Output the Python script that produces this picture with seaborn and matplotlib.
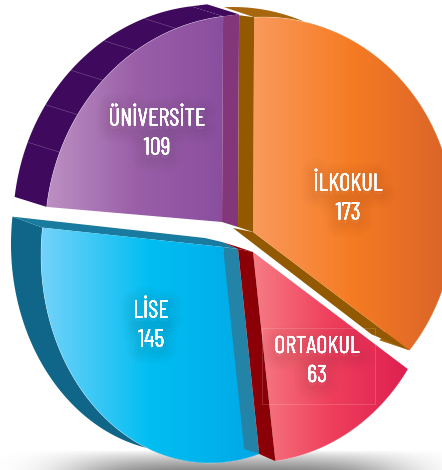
import numpy as np
import seaborn as sns
import matplotlib
matplotlib.use("Agg")
import matplotlib.pyplot as plt
import matplotlib.patheffects as pe
from matplotlib.patches import Polygon, Rectangle

# veriler
kategoriler = ["İLKOKUL", "ORTAOKUL", "LİSE", "ÜNİVERSİTE"]
degerler = [173, 63, 145, 109]

sns.set_theme(style="white")
plt.rcParams["font.family"] = ["Barlow Condensed", "Roboto Condensed", "Oswald", "Roboto", "DejaVu Sans"]

# dilim basina tepe noktasi, kenar elipsi, aci kaymasi, yan derinlik
dilimler = {
    "İLKOKUL": dict(tepe=(253, 232), merkez=(263, 220), rx=191, ry=203, kayma=(0.3, 0), derin=(-30, -10),
                    renk=["#FA9A5C", "#F57B22", "#D8622A"], yan="#A8660F"),
    "ORTAOKUL": dict(tepe=(253, 252), merkez=(250, 258), rx=188, ry=205, kayma=(0, 0.5), derin=(0, 0),
                     renk=["#F67C84", "#EF3F5C", "#DE1F50"], yan="#8B0006"),
    "LİSE": dict(tepe=(223, 247), merkez=(210, 255), rx=169, ry=208, kayma=(-3.3, -3.8), derin=(-30, -11),
                 renk=["#74D2F9", "#00BEF2", "#00A8E6"], yan="#0F6688"),
    "ÜNİVERSİTE": dict(tepe=(222, 222), merkez=(245, 235), rx=200, ry=220, kayma=(-5, 0.3), derin=(-32, -10),
                       renk=["#BC90C2", "#9A5FA8", "#8A4E9F"], yan="#3F0A5E"),
}
etiket_yeri = {"İLKOKUL": (348, 184), "ORTAOKUL": (317, 346.5), "LİSE": (151, 311), "ÜNİVERSİTE": (157, 119)}


def kenar_noktasi(d, aci):
    # tepeden cikan isinin kenar elipsini kestigi nokta
    ax_, ay_ = d["tepe"]
    cx, cy = d["merkez"]
    sx, sy = np.sin(np.radians(aci)), -np.cos(np.radians(aci))
    a = (sx / d["rx"]) ** 2 + (sy / d["ry"]) ** 2
    b = 2 * ((ax_ - cx) * sx / d["rx"] ** 2 + (ay_ - cy) * sy / d["ry"] ** 2)
    c = ((ax_ - cx) / d["rx"]) ** 2 + ((ay_ - cy) / d["ry"]) ** 2 - 1
    s = (-b + np.sqrt(b * b - 4 * a * c)) / (2 * a)
    return np.array([ax_ + s * sx, ay_ + s * sy])


fig = plt.figure(figsize=(4.42, 4.70), dpi=100)
ax = fig.add_axes([0, 0, 1, 1])
ax.set_xlim(0, 442)
ax.set_ylim(470, 0)
ax.set_axis_off()

# alttaki golge
xx, yy = np.meshgrid(np.linspace(0, 442, 221), np.linspace(445, 470, 26))
golge = np.exp(-((xx - 235) / 165) ** 4) * np.clip((yy - 450) / 20, 0, 1) ** 0.8
gri = np.zeros((26, 221, 4))
gri[..., :3] = 0.35
gri[..., 3] = golge * 0.7
ax.imshow(gri, extent=(0, 442, 470, 445), aspect="auto", zorder=0)

# dilim acilari degerlerden
acilar = np.concatenate([[0], np.cumsum(degerler) / np.sum(degerler) * 360])
kenarlar = {}
for i, k in enumerate(kategoriler):
    d = dilimler[k]
    a0, a1 = acilar[i] + d["kayma"][0], acilar[i + 1] + d["kayma"][1]
    t = np.linspace(a0, a1, 120)
    kenarlar[k] = np.array([kenar_noktasi(d, x) for x in t])

# yan yuzler, dis bant once
for k in kategoriler:
    d = dilimler[k]
    yay = kenarlar[k]
    if d["derin"] != (0, 0):
        ax.add_patch(Polygon(np.vstack([yay, (yay + d["derin"])[::-1]]), fc=d["yan"], ec="none", zorder=1))

# ust kapak ve kesit seritleri
A_i = np.array(dilimler["İLKOKUL"]["tepe"])
A_o = np.array(dilimler["ORTAOKUL"]["tepe"])
A_l = np.array(dilimler["LİSE"]["tepe"])
A_u = np.array(dilimler["ÜNİVERSİTE"]["tepe"])
y_i, y_o, y_l, y_u = [kenarlar[k] for k in kategoriler]

ax.add_patch(Polygon([y_u[-1], y_u[-1] + (-32, -10), y_u[-1] + (-16, -12), y_u[-1] + (16, -2)], fc="#3F0A5E", ec="none", zorder=1))
ax.add_patch(Polygon([y_l[-1], y_l[-1] + (-30, -11), A_l + (-18, -9), A_l + (-1, -5), A_l + (15, 2), A_l], fc="#1A7BA0", ec="none", zorder=2))
ax.add_patch(Polygon([A_i + (-20, -4), A_i, y_i[-1], y_i[-1] + (-38, -16)], fc="#925900", ec="none", zorder=3))
ax.add_patch(Polygon([A_l + (-1, -5), A_l + (15, 2), A_o, A_l + (15, 0)], fc="#8B0006", ec="none", zorder=3))

for k in kategoriler:
    d = dilimler[k]
    yay = kenarlar[k]
    kose = np.vstack([d["tepe"], yay])
    cm = sns.blend_palette(d["renk"], as_cmap=True)
    x0, x1 = kose[:, 0].min(), kose[:, 0].max()
    y0, y1 = kose[:, 1].min(), kose[:, 1].max()
    yuz = Polygon(kose, fc="none", ec="none", transform=ax.transData)
    ax.add_patch(yuz)
    im = ax.imshow(np.linspace(0, 1, 256)[None, :], cmap=cm, extent=(x0, x1, y1, y0), aspect="auto", zorder=4)
    im.set_clip_path(yuz)
    ax.plot(yay[:, 0], yay[:, 1], color="white", lw=0.4, alpha=0.45, zorder=5)

# kesit seritleri yuzlerin ustunde
ax.add_patch(Polygon([A_u, y_u[-1], y_u[-1] + (16, -2), A_u + (16, 5)], fc="#84367A", ec="none", zorder=6))
ax.add_patch(Polygon([A_i, y_i[0], y_i[0] + (-15, -2), A_i + (-15, -5)], fc="#925900", ec="none", zorder=6))
ax.add_patch(Polygon([A_l, A_l + (15, 2), y_l[0], y_l[0] + (-15, -5)], fc="#2484A8", ec="none", zorder=6))
ax.add_patch(Polygon([A_o, y_o[-1], y_l[0], A_l + (15, 2)], fc="#8B0006", ec="none", zorder=6))

# dis banttaki ince cizgiler
for aci in np.linspace(acilar[3], acilar[4], 7)[1:-1]:
    n = kenar_noktasi(dilimler["ÜNİVERSİTE"], aci)
    ax.plot([n[0], n[0] - 32], [n[1], n[1] - 10], color="white", lw=0.4, alpha=0.3, zorder=2)

ax.add_patch(Rectangle((262, 328), 113, 76, fc="none", ec="white", lw=0.6, alpha=0.18, zorder=7))

golge_yazi = [pe.withStroke(linewidth=w, foreground="#402020", alpha=0.016, offset=(0, -2.5)) for w in (20, 16, 12, 8, 5)] + [pe.Normal()]
for k, v in zip(kategoriler, degerler):
    x, y = etiket_yeri[k]
    for metin, yy_ in ((k, y), (str(v), y + 29)):
        ax.text(x, yy_, metin, color="white", fontsize=17.5, ha="center", va="center", zorder=8, path_effects=golge_yazi)

fig.savefig("out.png", dpi=100)
